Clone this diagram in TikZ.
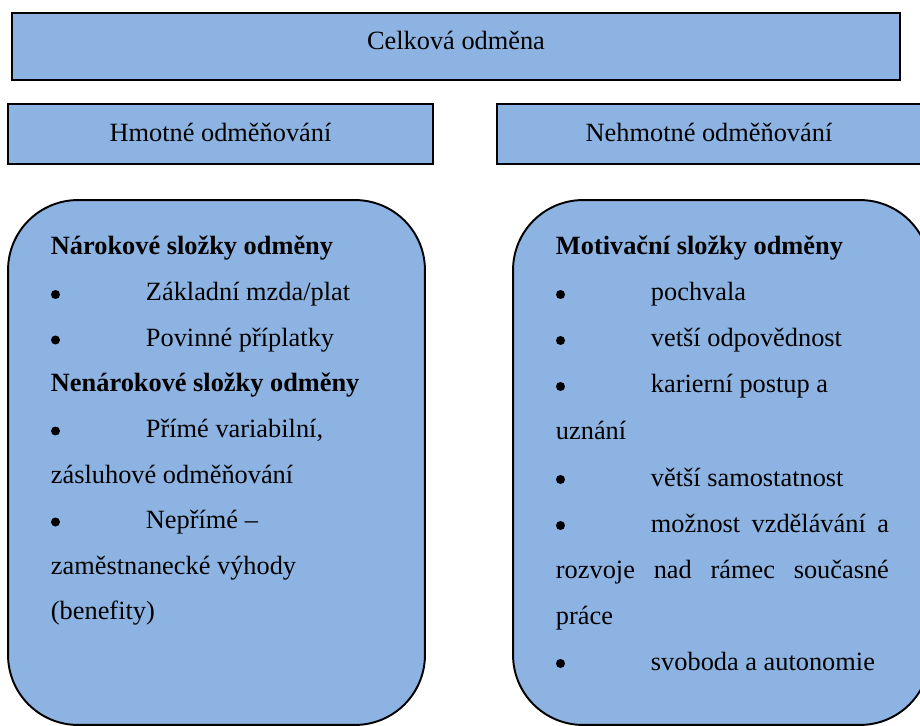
\documentclass[tikz,border=0pt]{standalone}
\usepackage{fontspec}
\setmainfont{Liberation Serif}
\definecolor{boxblue}{RGB}{141,179,226}

\begin{document}
\begin{tikzpicture}[
    x=0.02cm, y=-0.02cm,
    font=\fontsize{15}{18}\selectfont,
    line width=1.1pt,
    headbox/.style={draw, fill=boxblue, inner sep=0pt, minimum height=1.2cm},
    groupbox/.style={draw, fill=boxblue, rounded corners=1.4cm, inner sep=0pt, minimum width=8.34cm, minimum height=10.5cm},
    txt/.style={anchor=base west, inner sep=0pt},
    bul/.style={circle, fill=black, inner sep=0pt, minimum size=0.18cm}
]

% -------------------------------------------------
% CANVAS
% -------------------------------------------------
\useasboundingbox (0,0) rectangle (920,726);
\clip (0,0) rectangle (920,726);

% -------------------------------------------------
% HEADER BOXES
% -------------------------------------------------
\node[headbox, minimum width=17.76cm, minimum height=1.34cm] (celkova) at (456,46.5) {};
\node[anchor=base, inner sep=0pt] (celkovaT) at (456,50) {Celková odměna};

\node[headbox, minimum width=8.5cm] (hmotne) at (220.5,134) {};
\node[anchor=base, inner sep=0pt] (hmotneT) at (220.5,142) {Hmotné odměňování};

\node[headbox, minimum width=8.48cm] (nehmotne) at (709,134) {};
\node[anchor=base, inner sep=0pt] (nehmotneT) at (709,142) {Nehmotné odměňování};

% =================================================
% LEFT PANEL
% =================================================
\node[groupbox] (leftG) at (216.5,462.5) {};

\node[txt, font=\fontsize{15}{18}\selectfont\bfseries] (L1) at (50,255) {Nárokové složky odměny};
\node[bul] (LB1) at (55.5,294.5) {};
\node[txt] (L2) at (145,301) {Základní mzda/plat};
\node[bul] (LB2) at (55.5,340) {};
\node[txt] (L3) at (145,346.5) {Povinné příplatky};
\node[txt, font=\fontsize{15}{18}\selectfont\bfseries] (L4) at (50,392) {Nenárokové složky odměny};
\node[bul] (LB3) at (55.5,431) {};
\node[txt] (L5) at (145,437.5) {Přímé variabilní,};
\node[txt] (L6) at (50,483) {zásluhové odměňování};
\node[bul] (LB4) at (55.5,522) {};
\node[txt] (L7) at (145,528.5) {Nepřímé –};
\node[txt] (L8) at (50,574) {zaměstnanecké výhody};
\node[txt] (L9) at (50,619.5) {(benefity)};

% =================================================
% RIGHT PANEL
% =================================================
\node[groupbox] (rightG) at (721.5,462.5) {};

\node[txt, font=\fontsize{15}{18}\selectfont\bfseries] (R1) at (555,255) {Motivační složky odměny};
\node[bul] (RB1) at (560.5,294.5) {};
\node[txt] (R2) at (650,301) {pochvala};
\node[bul] (RB2) at (560.5,340.5) {};
\node[txt] (R3) at (650,347) {vetší odpovědnost};
\node[bul] (RB3) at (560.5,386.5) {};
\node[txt] (R4) at (650,393) {karierní postup a};
\node[txt] (R5) at (555,439) {uznání};
\node[bul] (RB4) at (560.5,479.5) {};
\node[txt] (R6) at (650,486) {větší samostatnost};
\node[bul] (RB5) at (560.5,525.5) {};
\node[txt] (R7) at (650,532) {\makebox[4.76cm][s]{možnost\hfill vzdělávání\hfill a}};
\node[txt] (R8) at (555,578) {\makebox[6.66cm][s]{rozvoje\hfill nad\hfill rámec\hfill současné}};
\node[txt] (R9) at (555,624) {práce};
\node[bul] (RB6) at (560.5,663.5) {};
\node[txt] (R10) at (650,670) {svoboda a autonomie};

\end{tikzpicture}
\end{document}
